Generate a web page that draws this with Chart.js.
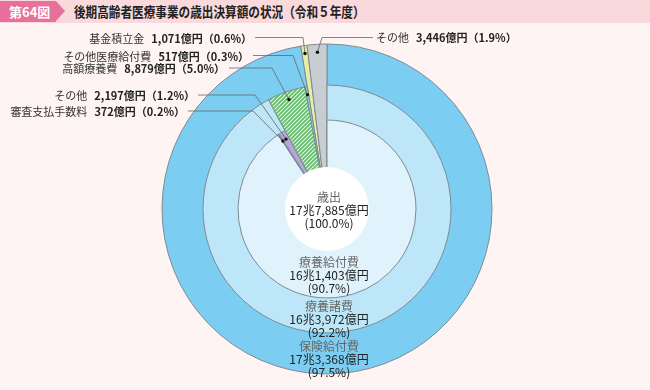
<!DOCTYPE html>
<html lang="ja">
<head>
<meta charset="utf-8">
<script src="https://cdn.jsdelivr.net/npm/chart.js@4.4.1/dist/chart.umd.min.js"></script>
<style>
  html, body { margin: 0; padding: 0; }
  body {
    width: 650px; height: 390px; position: relative; overflow: hidden;
    background: #fef4f3; color: #222;
    font-family: "Noto Sans CJK JP", "Noto Sans", sans-serif;
  }
  .band { position: absolute; left: 0; top: 0; width: 650px; height: 23px; background: #f9d9dc; }
  .tag {
    position: absolute; left: 0; top: 1px; width: 56px; height: 21px;
    background: #e8719b; color: #fff; font-weight: bold; font-size: 13px;
    line-height: 21px; text-indent: 9px;
  }
  .tag:after {
    content: ''; position: absolute; left: 56px; top: 0;
    border-left: 9px solid #e8719b;
    border-top: 10.5px solid transparent; border-bottom: 10.5px solid transparent;
  }
  .title {
    position: absolute; left: 74px; top: 0; font-size: 14px; line-height: 23px;
    font-weight: bold; white-space: nowrap; color: #222;
    transform: scaleX(0.83); transform-origin: left center;
  }
  canvas { position: absolute; left: 0; top: 0; }
  .lbl {
    position: absolute; font-size: 11px; line-height: 14px; white-space: nowrap;
    color: #333; transform: translateY(-50%);
  }
  .lbl b { color: #222; margin-left: 7px; }
  .ctr {
    position: absolute; left: 259px; width: 140px; text-align: center;
    font-size: 12px; line-height: 13px; color: #222;
  }
  .ctr span { color: #666; }
</style>
</head>
<body>
<div class="band"></div>
<div class="tag">第64図</div>
<div class="title">後期高齢者医療事業の歳出決算額の状況（令和５年度）</div>

<canvas id="layer1" width="650" height="390"></canvas>
<canvas id="layer2" width="650" height="390"></canvas>
<canvas id="layer3" width="650" height="390"></canvas>
<canvas id="layer4" width="650" height="390"></canvas>
<div id="texts"></div>

<script>
// 単位：億円
const total = 177885;
const totalLabel = '歳出';
const level1Labels = ['保険給付費', '基金積立金', 'その他'];
const level1Values = [173368, 1071, 3446];
const level2Labels = ['療養諸費', '高額療養費', 'その他医療給付費'];
const level2Values = [163972, 8879, 517];
const level3Labels = ['療養給付費', '審査支払手数料', 'その他'];
const level3Values = [161403, 372, 2197];

const lineColor = '#7d8a93';
const clear = 'rgba(0,0,0,0)';

// hatched green for 高額療養費
function hatch() {
    const c = document.createElement('canvas');
    c.width = 4; c.height = 4;
    const g = c.getContext('2d');
    g.fillStyle = '#62bd6a';
    g.fillRect(0, 0, 4, 4);
    g.strokeStyle = '#e9f6e6';
    g.lineWidth = 1.1;
    g.beginPath();
    g.moveTo(-1, 5); g.lineTo(5, -1);
    g.moveTo(-1, 1); g.lineTo(1, -1);
    g.moveTo(3, 5); g.lineTo(5, 3);
    g.stroke();
    return g.createPattern(c, 'repeat');
}

function oku(v) {
    const cho = Math.floor(v / 10000);
    const rest = (v % 10000).toLocaleString('en-US');
    return (cho ? cho + '兆' : '') + rest + '億円';
}
function pct(v) {
    return (v / total * 100).toFixed(1) + '%';
}

const layers = [];

function makeLayer(id, radius, data, colors, widths, plugins) {
    const chart = new Chart(document.getElementById(id), {
        type: 'doughnut',
        data: {
            datasets: [{
                data: data,
                backgroundColor: colors,
                borderColor: lineColor,
                borderWidth: widths
            }]
        },
        options: {
            responsive: false,
            animation: false,
            events: [],
            cutout: 0,
            radius: radius,
            layout: { padding: { left: 4, top: 28 } },
            plugins: { legend: { display: false }, tooltip: { enabled: false } }
        },
        plugins: plugins || []
    });
    layers.push(chart);
    return chart;
}

// leader lines: which layer / slice, where the horizontal part sits
const leaders = [
    { layer: 0, index: 1, y: 37.5, x0: 255, x1: 303 },
    { layer: 0, index: 2, y: 37.5, x0: 373, x1: 322 },
    { layer: 1, index: 2, y: 55.5, x0: 253, x1: 293 },
    { layer: 1, index: 1, y: 68, x0: 229, x1: 272 },
    { layer: 2, index: 2, y: 95, x0: 198, x1: 255 },
    { layer: 2, index: 1, y: 111, x0: 188, x1: 253 }
];

const leaderPlugin = {
    id: 'leaders',
    afterDraw(chart) {
        const ctx = chart.ctx;
        ctx.save();
        leaders.forEach(l => {
            const arc = layers[l.layer].getDatasetMeta(0).data[l.index];
            const p = arc.getProps(['x', 'y', 'startAngle', 'endAngle', 'outerRadius'], true);
            const mid = (p.startAngle + p.endAngle) / 2;
            const r = p.outerRadius - 8;
            const px = p.x + Math.cos(mid) * r;
            const py = p.y + Math.sin(mid) * r;
            ctx.strokeStyle = '#666';
            ctx.lineWidth = 0.8;
            ctx.beginPath();
            ctx.moveTo(l.x0, l.y);
            ctx.lineTo(l.x1, l.y);
            ctx.lineTo(px, py);
            ctx.stroke();
            ctx.fillStyle = '#111';
            ctx.beginPath();
            ctx.arc(px, py, 1.7, 0, Math.PI * 2);
            ctx.fill();
        });
        ctx.restore();
    }
};

makeLayer('layer1', 165, level1Values,
    ['#7ccdf2', '#e6efa2', '#c8cdd1'], [1, 1, 1]);
makeLayer('layer2', 124, level2Values.concat(level1Values.slice(1)),
    ['#bde6f8', hatch(), '#8fd7e6', clear, clear], [1, 1, 1, 0, 0]);
makeLayer('layer3', 89, level3Values.concat(level2Values.slice(1), level1Values.slice(1)),
    ['#e0f3fc', '#b3ad45', '#b7a4da', clear, clear, clear, clear], [1, 1, 1, 0, 0, 0, 0]);
makeLayer('layer4', 42, [total], ['#ffffff'], [0], [leaderPlugin]);

// text labels
const texts = document.getElementById('texts');
function addLabel(name, v, x, y, alignRight) {
    const d = document.createElement('div');
    d.className = 'lbl';
    d.innerHTML = name + '<b>' + oku(v) + '（' + pct(v) + '）</b>';
    d.style.top = y + 'px';
    if (alignRight) d.style.right = (650 - x) + 'px';
    else d.style.left = x + 'px';
    texts.appendChild(d);
}
addLabel(level1Labels[1], level1Values[1], 252, 37.5, true);
addLabel(level2Labels[2], level2Values[2], 249, 55.5, true);
addLabel(level2Labels[1], level2Values[1], 225, 68, true);
addLabel(level3Labels[2], level3Values[2], 195, 95, true);
addLabel(level3Labels[1], level3Values[1], 185, 111, true);
addLabel(level1Labels[2], level1Values[2], 376, 37, false);

function addCenter(name, v, top) {
    const d = document.createElement('div');
    d.className = 'ctr';
    d.style.top = top + 'px';
    d.innerHTML = '<span>' + name + '</span><br>' + oku(v) + '<br>(' + pct(v) + ')';
    texts.appendChild(d);
}
addCenter(totalLabel, total, 189.5);
addCenter(level3Labels[0], level3Values[0], 254.5);
addCenter(level2Labels[0], level2Values[0], 298.5);
addCenter(level1Labels[0], level1Values[0], 338.5);
</script>
</body>
</html>
